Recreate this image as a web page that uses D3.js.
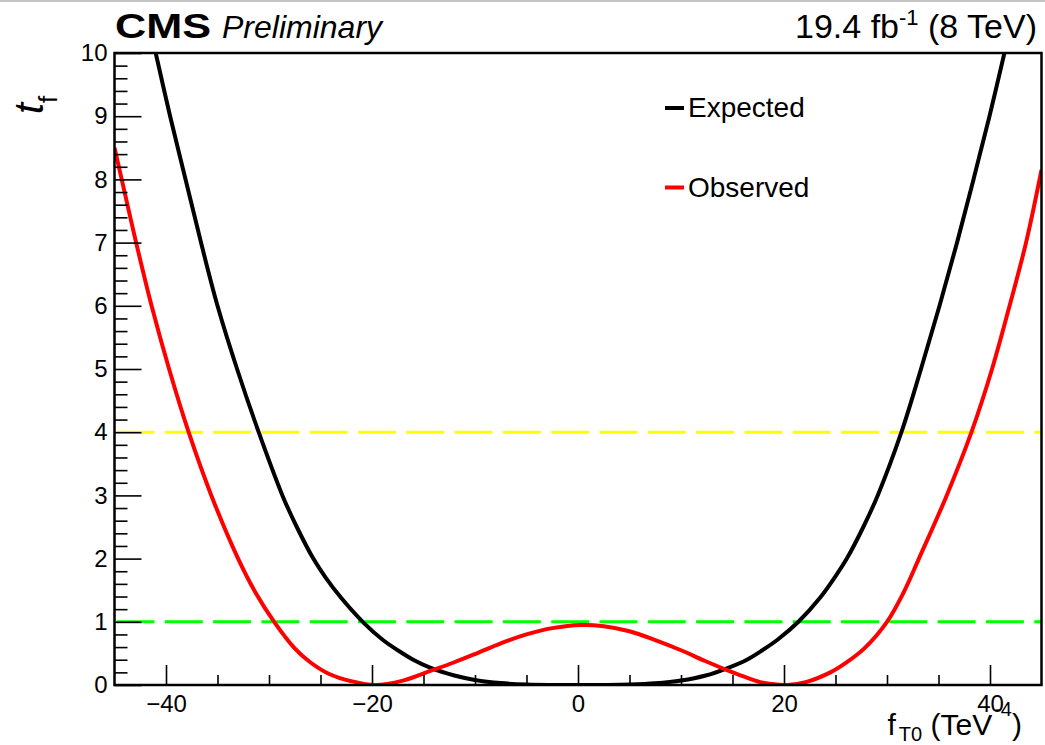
<!DOCTYPE html>
<html>
<head>
<meta charset="utf-8">
<script src="https://cdn.jsdelivr.net/npm/d3@7"></script>
<style>
body{margin:0;background:#fff;}
svg{display:block;font-family:"Liberation Sans",Arial,Helvetica,sans-serif;}
</style>
</head>
<body>
<svg id="chart" width="1045" height="745"></svg>
<script>
// Expected curve, points (f_T0, t_f)
var expF = [-41.0, -39.6, -38.1, -36.6, -35.0, -33.1, -31.0, -28.7, -27.3, -25.7, -24.5, -23.0, -20.9, -19.0, -17.5, -16.0, -14.3, -12.0, -10.0, -7.5, -5.0, -2.5, 0,
            2.5, 5.0, 7.5, 10.0, 12.4, 14.4, 16.4, 17.9, 19.4, 21.4, 23.5, 25.0, 26.1, 27.7, 29.1, 31.4, 33.3, 35.1, 36.8, 38.4, 39.95, 41.4];
var expT = [10, 9, 8, 7, 6, 5, 4, 3, 2.5, 2, 1.7, 1.38, 1, 0.72, 0.55, 0.40, 0.27, 0.15, 0.08, 0.03, 0.008, 0.001, 0,
            0.001, 0.007, 0.026, 0.07, 0.15, 0.26, 0.40, 0.55, 0.72, 1, 1.38, 1.72, 2, 2.5, 3, 4, 5, 6, 7, 8, 9, 10];

// Observed curve
var obsF = [-45, -44.3, -42.9, -41.4, -39.7, -37.8, -35.6, -33.0, -31.3, -29.5, -27.5, -26.0, -24.1, -22.0, -19.7, -17.0, -14.2, -12.0, -10.0, -7.5, -5.0, -2.5, 0.3,
            2.5, 5.0, 7.5, 10.0, 12.2, 14.4, 17.6, 18.8, 20.3, 22.2, 24.5, 26.0, 27.8, 30.0, 31.6, 33.1, 35.8, 38.2, 40.2, 41.9, 43.5, 45];
var obsT = [8.5, 8, 7, 6, 5, 4, 3, 2, 1.46, 1, 0.58, 0.36, 0.17, 0.06, 0, 0.07, 0.23, 0.36, 0.49, 0.66, 0.8, 0.9, 0.95,
            0.93, 0.85, 0.71, 0.55, 0.39, 0.24, 0.05, 0.015, 0, 0.05, 0.2, 0.35, 0.58, 1, 1.46, 2, 3, 4, 5, 6, 7, 8.15];

// reference levels (68% / 95%)
var refLevels = [1, 4];
var refColors = ["#00ff00", "#ffff00"];

var xMajor = [-40, -20, 0, 20, 40];
var xMinor = [-35, -30, -25, -15, -10, -5, 5, 10, 15, 25, 30, 35];
var yMajor = [0, 1, 2, 3, 4, 5, 6, 7, 8, 9, 10];
var yMinor = [];
for (var i = 0; i < 50; i++) { if (i % 5 != 0) yMinor.push(i / 5); }

var legendNames = ["Expected", "Observed"];
var legendColors = ["#000000", "#ff0000"];

var svg = d3.select("#chart");
var padL = 114.5, padR = 1041.5, padT = 53, padB = 685;

var xScale = d3.scaleLinear().domain([-45, 45]).range([padL, padR]);
var yScale = d3.scaleLinear().domain([0, 10]).range([padB, padT]);

// gray border line at the top of the canvas
svg.append("rect").attr("x", 0).attr("y", 0).attr("width", 1045).attr("height", 2).attr("fill", "#c4c4c4");

svg.append("clipPath").attr("id", "plotclip")
  .append("rect").attr("x", padL).attr("y", padT).attr("width", padR - padL).attr("height", padB - padT);

// dashed reference lines
refLevels.forEach(function(v, k) {
  svg.append("line")
    .attr("x1", xScale(-45) + 2).attr("x2", xScale(45))
    .attr("y1", yScale(v)).attr("y2", yScale(v))
    .attr("stroke", refColors[k])
    .attr("stroke-width", 3)
    .attr("stroke-dasharray", "38,10.3");
});

var line = d3.line()
  .x(function(d) { return xScale(d[0]); })
  .y(function(d) { return yScale(d[1]); })
  .curve(d3.curveCatmullRom.alpha(0.5));

var expData = expF.map(function(f, i) { return [f, expT[i]]; });
var obsData = obsF.map(function(f, i) { return [f, obsT[i]]; });

var g = svg.append("g").attr("clip-path", "url(#plotclip)");
g.append("path").datum(expData).attr("d", line)
  .attr("fill", "none").attr("stroke", "#000").attr("stroke-width", 4);
g.append("path").datum(obsData).attr("d", line)
  .attr("fill", "none").attr("stroke", "#ff0000").attr("stroke-width", 4);

// axes
var ya = svg.append("g").attr("transform", "translate(" + padL + ",0)")
  .call(d3.axisLeft(yScale).tickValues(yMajor).tickSizeInner(-27).tickSizeOuter(0).tickPadding(7).tickFormat(d3.format("d")));
var yb = svg.append("g").attr("transform", "translate(" + padL + ",0)")
  .call(d3.axisLeft(yScale).tickValues(yMinor).tickSizeInner(-13).tickSizeOuter(0).tickFormat(""));
var xa = svg.append("g").attr("transform", "translate(0," + padB + ")")
  .call(d3.axisBottom(xScale).tickValues(xMajor).tickSizeInner(-20).tickSizeOuter(0).tickPadding(9.5)
    .tickFormat(function(d) { return d < 0 ? "\u2212" + Math.abs(d) : d; }));
var xb = svg.append("g").attr("transform", "translate(0," + padB + ")")
  .call(d3.axisBottom(xScale).tickValues(xMinor).tickSizeInner(-10).tickSizeOuter(0).tickFormat(""));

[ya, yb, xa, xb].forEach(function(a) {
  a.select(".domain").remove();
  a.attr("font-size", 24).attr("font-family", null);
  a.selectAll("line").attr("stroke", "#000").attr("stroke-width", 1.6);
  a.selectAll("text").attr("fill", "#000");
});

// frame
svg.append("rect").attr("x", padL).attr("y", padT).attr("width", padR - padL).attr("height", padB - padT)
  .attr("fill", "none").attr("stroke", "#000").attr("stroke-width", 2.5);

// legend
legendNames.forEach(function(n, k) {
  var ly = [108, 187.5][k];
  svg.append("line").attr("x1", 665).attr("x2", 684).attr("y1", ly).attr("y2", ly)
    .attr("stroke", legendColors[k]).attr("stroke-width", 4);
  svg.append("text").attr("x", 688).attr("y", ly + 9).attr("font-size", 28).text(n);
});

// header
svg.append("text").attr("x", 115).attr("y", 38).attr("font-size", 35).attr("font-weight", "bold")
  .attr("textLength", 96).attr("lengthAdjust", "spacingAndGlyphs").text("CMS");
svg.append("text").attr("x", 222).attr("y", 38).attr("font-size", 32).attr("font-style", "italic").text("Preliminary");

var lumi = svg.append("text").attr("x", 1037).attr("y", 38).attr("font-size", 34).attr("text-anchor", "end");
lumi.append("tspan").text("19.4 fb");
lumi.append("tspan").attr("font-size", 22).attr("dy", -13).text("-1");
lumi.append("tspan").attr("dy", 13).text(" (8 TeV)");

// axis titles
var xt = svg.append("text").attr("x", 1022).attr("y", 735).attr("font-size", 30).attr("text-anchor", "end");
xt.append("tspan").text("f");
xt.append("tspan").attr("font-size", 20).attr("dx", 3).attr("dy", 6).text("T0");
xt.append("tspan").attr("dy", -6).text(" (TeV");
xt.append("tspan").attr("font-size", 20).attr("dx", 2).attr("dy", -19).text("-4");
xt.append("tspan").attr("dy", 19).text(")");

var yt = svg.append("text").attr("transform", "translate(43,114) rotate(-90)").attr("font-size", 40);
yt.append("tspan").attr("font-style", "italic").text("t");
yt.append("tspan").attr("font-size", 26).attr("dy", 14).text("f");
</script>
</body>
</html>
